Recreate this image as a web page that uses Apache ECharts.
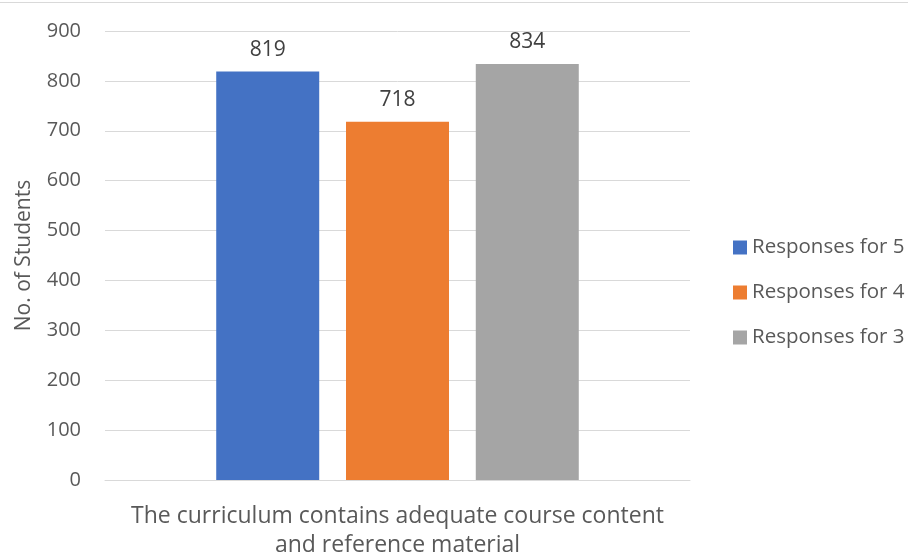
<!DOCTYPE html>
<html><head><meta charset="utf-8">
<script src="https://cdn.jsdelivr.net/npm/echarts@6/dist/echarts.min.js"></script>
<style>html,body{margin:0;padding:0;background:#fff}#c{width:908px;height:557px}</style>
</head><body><div id="c"></div>
<script>
const categories = ['The curriculum contains adequate course content\nand reference material'];
const seriesNames = ['Responses for 5', 'Responses for 4', 'Responses for 3'];
const values5 = [819];
const values4 = [718];
const values3 = [834];
const colors = ['#4472C4', '#ED7D31', '#A5A5A5'];
const font = 'Open Sans';
const chart = echarts.init(document.getElementById('c'));
const dataSets = [values5, values4, values3];
chart.setOption({
  animation: false,
  textStyle: { fontFamily: font },
  graphic: [{ type: 'line', shape: { x1: 0, y1: 2.5, x2: 908, y2: 2.5 }, style: { stroke: '#d9d9d9', lineWidth: 1 } }],
  grid: { left: 105, right: 218, top: 31, bottom: 77, outerBoundsMode: 'none', containLabel: false },
  legend: {
    orient: 'vertical', left: 728, top: 232, itemWidth: 14, itemHeight: 14, itemGap: 24,
    icon: 'rect', textStyle: { fontSize: 20.5, color: '#595959', fontFamily: font },
    data: seriesNames
  },
  xAxis: {
    type: 'category', data: categories,
    axisLine: { lineStyle: { color: '#d9d9d9', width: 1 } }, axisTick: { show: false },
    axisLabel: { fontSize: 23, color: '#595959', lineHeight: 29, margin: 22, fontFamily: font }
  },
  yAxis: {
    type: 'value', min: 0, max: 900, interval: 100,
    name: 'No. of Students', nameLocation: 'middle', nameGap: 70, nameRotate: 90,
    nameTextStyle: { fontSize: 21, color: '#595959', fontFamily: font },
    axisLabel: { fontSize: 20, color: '#595959', margin: 24, fontFamily: font },
    splitLine: { lineStyle: { color: '#d9d9d9', width: 1 } }
  },
  series: dataSets.map((d, i) => ({
    name: seriesNames[i], type: 'bar', data: d, barWidth: 103, barGap: '26%',
    itemStyle: { color: colors[i] },
    label: { show: true, position: 'top', distance: 11, fontSize: 21, color: '#404040', fontFamily: font }
  }))
});
</script></body></html>
